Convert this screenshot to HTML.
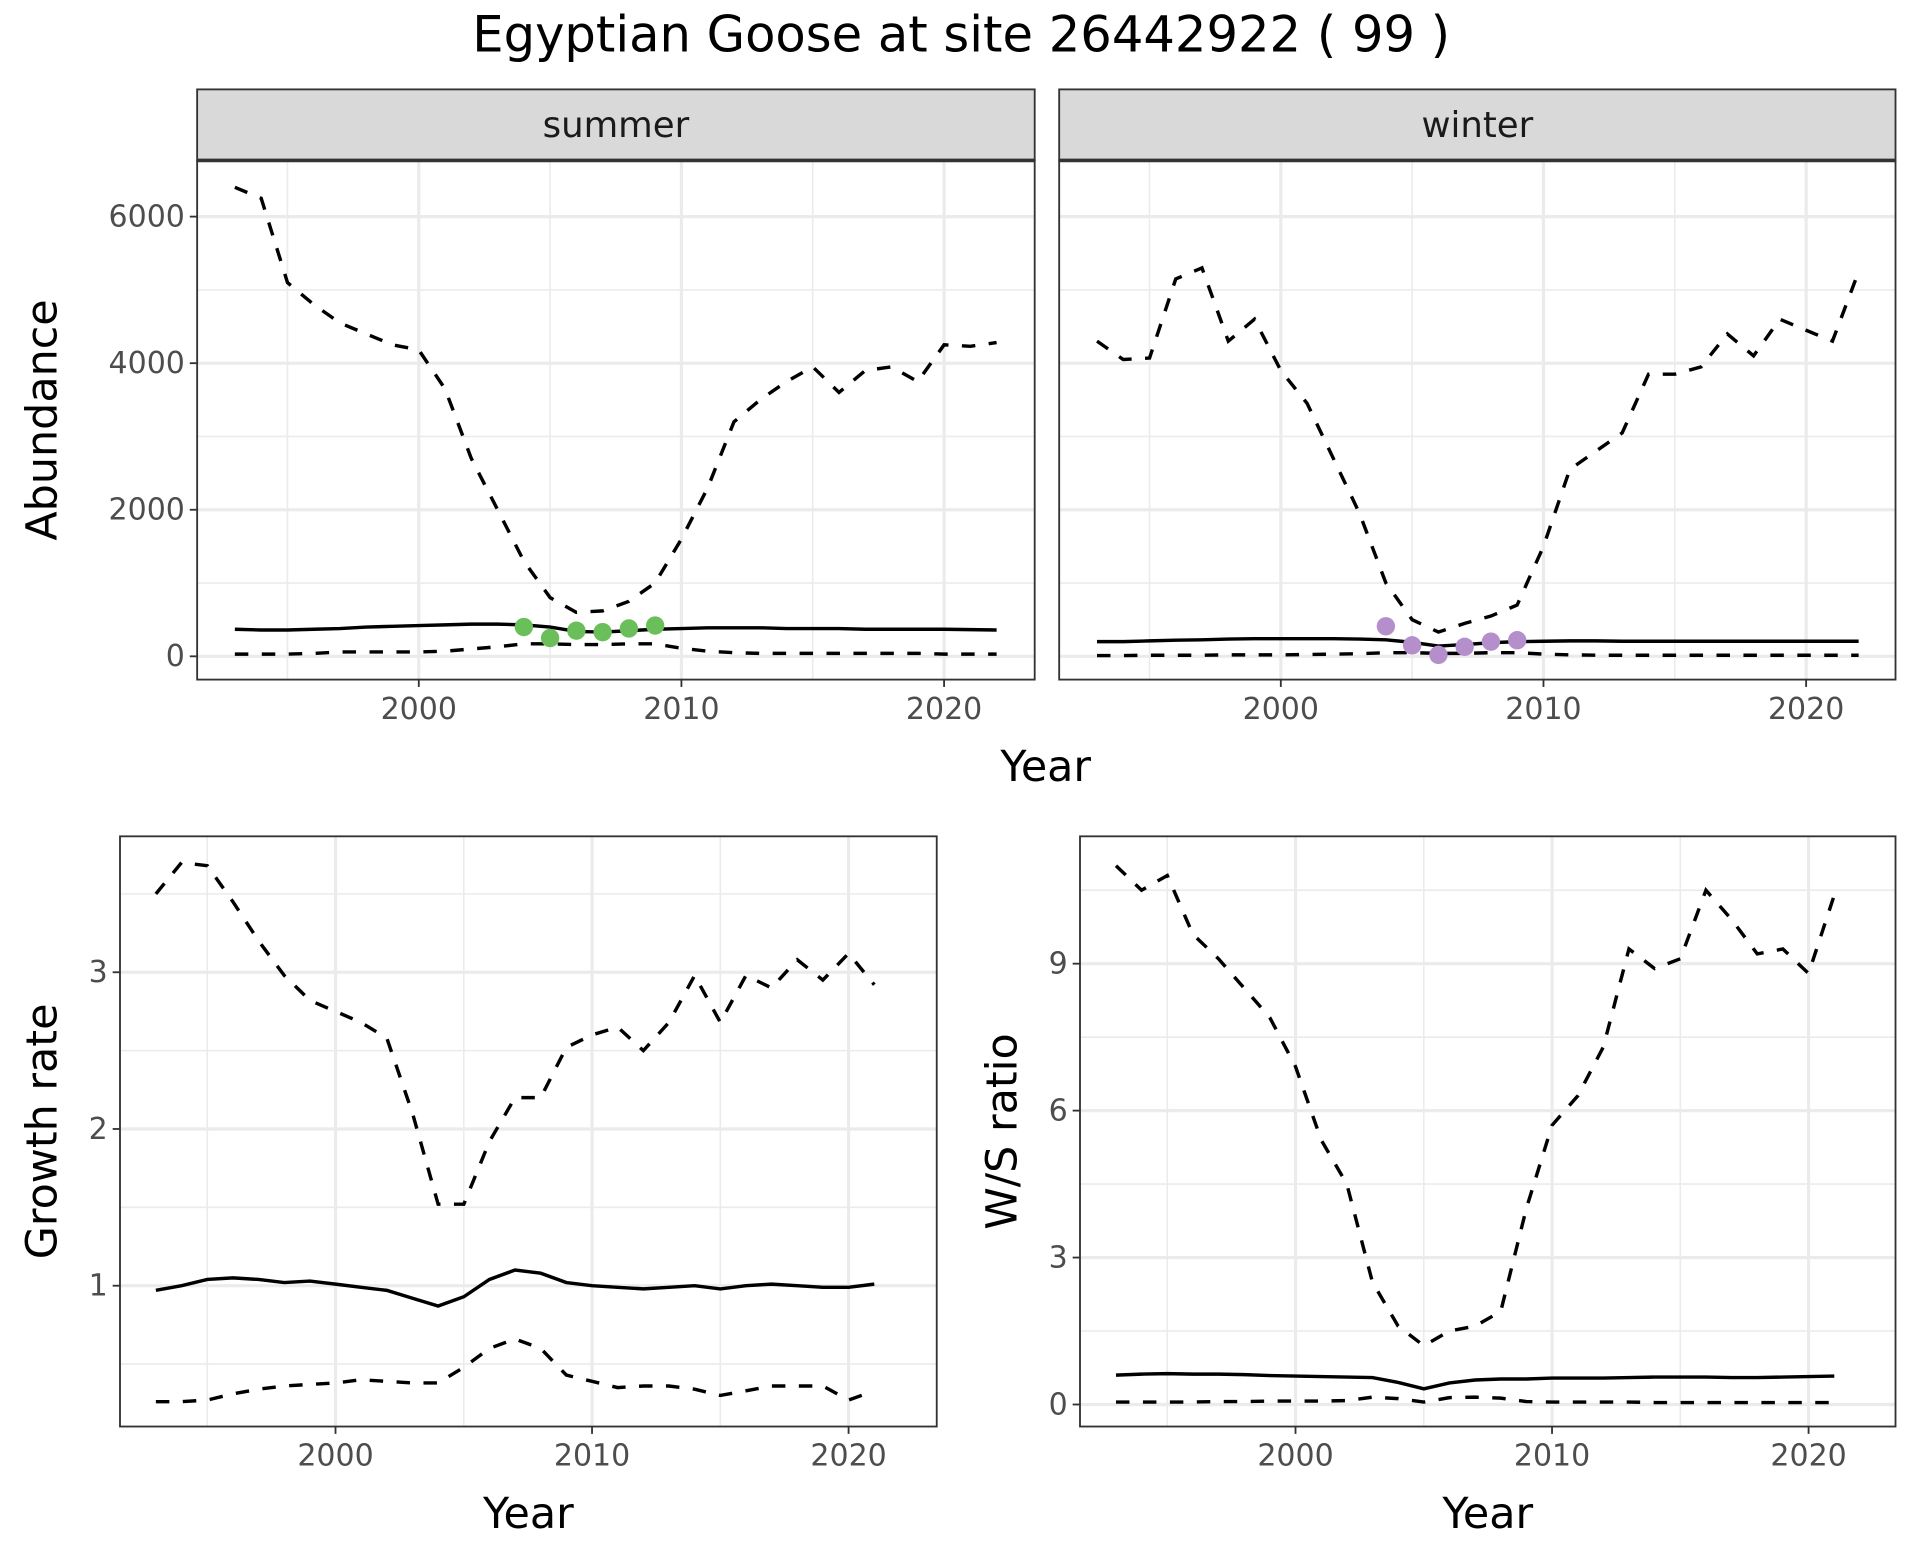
<!DOCTYPE html>
<html><head><meta charset="utf-8"><style>
html,body{margin:0;padding:0;background:#fff;}
svg{display:block;font-family:"DejaVu Sans","Liberation Sans",sans-serif;}
</style></head><body>
<svg id="chart" width="1920" height="1560" viewBox="0 0 1568 1274" xmlns="http://www.w3.org/2000/svg">
<rect width="1568" height="1274" fill="#fff"/>
<text x="785" y="42" text-anchor="middle" font-size="40.5" fill="#000">Egyptian Goose at site 26442922 ( 99 )</text>
</svg>
<script>
const yearsA = [1993,1994,1995,1996,1997,1998,1999,2000,2001,2002,2003,2004,2005,2006,2007,2008,2009,2010,2011,2012,2013,2014,2015,2016,2017,2018,2019,2020,2021,2022];
const summerUpper = [6400,6250,5100,4800,4550,4400,4250,4180,3650,2700,2000,1300,800,600,620,750,1000,1600,2300,3200,3500,3750,3950,3600,3900,3950,3750,4250,4230,4280];
const summerMean = [370,360,360,370,380,400,410,420,430,440,440,430,400,340,330,350,370,380,390,390,390,380,380,380,370,370,370,370,365,360];
const summerLower = [30,30,30,40,60,60,60,60,70,100,130,170,170,160,160,170,170,110,70,50,40,40,40,40,40,40,40,30,30,30];
const summerPtYears = [2004,2005,2006,2007,2008,2009];
const summerPts = [400,250,350,330,380,420];
const winterUpper = [4300,4050,4070,5150,5300,4300,4600,3900,3450,2700,1950,1000,500,330,450,550,700,1500,2550,2800,3050,3850,3850,3950,4400,4100,4600,4450,4300,5250];
const winterMean = [200,200,210,220,225,235,240,240,240,240,235,225,190,140,160,185,200,205,210,210,205,205,205,205,205,205,205,205,205,205];
const winterLower = [10,10,15,15,15,20,20,20,25,30,35,50,50,40,40,50,50,30,20,15,15,15,15,15,15,15,15,15,15,15];
const winterPtYears = [2004,2005,2006,2007,2008,2009];
const winterPts = [410,150,20,130,200,220];
const yearsB = [1993,1994,1995,1996,1997,1998,1999,2000,2001,2002,2003,2004,2005,2006,2007,2008,2009,2010,2011,2012,2013,2014,2015,2016,2017,2018,2019,2020,2021];
const growthMean = [0.97,1.0,1.04,1.05,1.04,1.02,1.03,1.01,0.99,0.97,0.92,0.87,0.93,1.04,1.10,1.08,1.02,1.0,0.99,0.98,0.99,1.0,0.98,1.0,1.01,1.0,0.99,0.99,1.01];
const growthUpper = [3.5,3.7,3.68,3.45,3.2,2.98,2.82,2.75,2.68,2.58,2.1,1.52,1.52,1.92,2.2,2.2,2.52,2.6,2.65,2.5,2.68,2.98,2.68,2.98,2.9,3.08,2.95,3.12,2.92];
const growthLower = [0.26,0.26,0.27,0.31,0.34,0.36,0.37,0.38,0.40,0.39,0.38,0.38,0.48,0.60,0.66,0.60,0.43,0.39,0.35,0.36,0.36,0.34,0.30,0.33,0.36,0.36,0.36,0.27,0.33];
const ratioUpper = [11.0,10.5,10.8,9.6,9.1,8.5,7.9,6.9,5.4,4.5,2.5,1.6,1.2,1.5,1.6,1.9,4.0,5.7,6.3,7.3,9.3,8.9,9.1,10.5,9.9,9.2,9.3,8.8,10.4];
const ratioMean = [0.6,0.62,0.63,0.62,0.62,0.61,0.59,0.58,0.57,0.56,0.55,0.45,0.32,0.44,0.5,0.52,0.52,0.54,0.54,0.54,0.55,0.56,0.56,0.56,0.55,0.55,0.56,0.57,0.58];
const ratioLower = [0.05,0.05,0.05,0.05,0.06,0.06,0.07,0.07,0.07,0.08,0.15,0.12,0.05,0.14,0.15,0.13,0.06,0.05,0.05,0.05,0.05,0.04,0.04,0.04,0.04,0.04,0.04,0.04,0.04];
const xTicks = [2000,2010,2020];
const xMinor = [1995,2005,2015];
const abTicks = [0,2000,4000,6000];
const abMinor = [1000,3000,5000];
const grTicks = [1,2,3];
const grMinor = [0.5,1.5,2.5,3.5];
const raTicks = [0,3,6,9];
const raMinor = [1.5,4.5,7.5,10.5];

const svg = document.getElementById('chart');
const NS = 'http://www.w3.org/2000/svg';
function mk(tag, attrs, parent){const e=document.createElementNS(NS,tag);for(const k in attrs)e.setAttribute(k,attrs[k]);(parent||svg).appendChild(e);return e;}

function panel(o){
  const g = mk('g',{});
  
  
  const sx = v => o.x0 + (v - o.xa) * o.xs;
  const sy = v => o.y0 - (v - o.ya) * o.ys;
  mk('rect',{x:o.l,y:o.t,width:o.r-o.l,height:o.b-o.t,fill:'#fff'},g);
  o.yMinor.forEach(v=>{const y=sy(v); if(y>o.t&&y<o.b) mk('line',{x1:o.l,x2:o.r,y1:y,y2:y,stroke:'#ebebeb','stroke-width':1.3},g);});
  xMinor.forEach(v=>{const x=sx(v); mk('line',{x1:x,x2:x,y1:o.t,y2:o.b,stroke:'#ebebeb','stroke-width':1.3},g);});
  o.yTicks.forEach(v=>{const y=sy(v); mk('line',{x1:o.l,x2:o.r,y1:y,y2:y,stroke:'#ebebeb','stroke-width':2.6},g);});
  xTicks.forEach(v=>{const x=sx(v); mk('line',{x1:x,x2:x,y1:o.t,y2:o.b,stroke:'#ebebeb','stroke-width':2.6},g);});
  const series = [[o.upper,'dash','upper-bound-line'],[o.lower,'dash','lower-bound-line'],[o.mean,'solid','mean-line']];
  series.forEach(([arr,st,nm])=>{
    const d = arr.map((v,i)=>(i?'L':'M')+sx(o.years[i]).toFixed(1)+','+sy(v).toFixed(1)).join('');
    const p = mk('path',{d:d,fill:'none',stroke:'#000','stroke-width':2.8,'stroke-dasharray':st==='dash'?'11,11':'none'},g);
    
    
  });
  if(o.pts){o.pts.forEach((v,i)=>{const c=mk('circle',{cx:sx(o.ptYears[i]),cy:sy(v),r:7.5,fill:o.ptColor},g);
    
    });}
  mk('rect',{x:o.l,y:o.t,width:o.r-o.l,height:o.b-o.t,fill:'none',stroke:'#333','stroke-width':1.5},g);
  if(o.strip){
    const s=mk('rect',{x:o.l,y:o.t-58,width:o.r-o.l,height:58,fill:'#d9d9d9',stroke:'#333','stroke-width':1.5},g);
    
    
    mk('line',{x1:o.l,x2:o.r,y1:o.t,y2:o.t,stroke:'#333','stroke-width':3},g);
    const t=mk('text',{x:(o.l+o.r)/2,y:o.t-19,'text-anchor':'middle','font-size':29,fill:'#1a1a1a'},g);
    t.textContent=o.strip;
    
    
  }
  xTicks.forEach(v=>{const x=sx(v);
    mk('line',{x1:x,x2:x,y1:o.b,y2:o.b+6,stroke:'#333','stroke-width':1.5},g);
    const t=mk('text',{x:x,y:o.b+32,'text-anchor':'middle','font-size':24.5,fill:'#4d4d4d'},g);t.textContent=v;
    
    });
  if(o.showY){o.yTicks.forEach(v=>{const y=sy(v);
    mk('line',{x1:o.l-6,x2:o.l,y1:y,y2:y,stroke:'#333','stroke-width':1.5},g);
    const t=mk('text',{x:o.l-10,y:y+8,'text-anchor':'end','font-size':24.5,fill:'#4d4d4d'},g);t.textContent=v;
    
    });}
  if(o.ytitle){const t=mk('text',{x:0,y:0,'text-anchor':'middle','font-size':35,fill:'#000',transform:`translate(${o.ytx},${(o.t+o.b)/2}) rotate(-90)`},g);t.textContent=o.ytitle;
    
    }
  if(o.xtitle){const t=mk('text',{x:(o.l+o.r)/2,y:o.b+83,'text-anchor':'middle','font-size':35,fill:'#000'},g);t.textContent='Year';
    
    }
}

panel({name:'summer-panel',l:161,r:845,t:131,b:555,x0:342,xa:2000,xs:21.45,y0:536,ya:0,ys:119.7/2000,
  yTicks:abTicks,yMinor:abMinor,years:yearsA,upper:summerUpper,mean:summerMean,lower:summerLower,
  pts:summerPts,ptYears:summerPtYears,ptColor:'#6abf5a',strip:'summer',showY:true,ytitle:'Abundance',ytx:46});
panel({name:'winter-panel',l:865,r:1548,t:131,b:555,x0:1046,xa:2000,xs:21.45,y0:536,ya:0,ys:119.7/2000,
  yTicks:abTicks,yMinor:abMinor,years:yearsA,upper:winterUpper,mean:winterMean,lower:winterLower,
  pts:winterPts,ptYears:winterPtYears,ptColor:'#b48fcb',strip:'winter',showY:false});
const yt=mk('text',{x:854,y:638,'text-anchor':'middle','font-size':35,fill:'#000'});yt.textContent='Year';


panel({name:'growth-rate-panel',l:98,r:765,t:683,b:1165,x0:274,xa:2000,xs:20.95,y0:1050,ya:1,ys:128,
  yTicks:grTicks,yMinor:grMinor,years:yearsB,upper:growthUpper,mean:growthMean,lower:growthLower,
  showY:true,ytitle:'Growth rate',ytx:46,xtitle:true});
panel({name:'ws-ratio-panel',l:882,r:1548,t:683,b:1165,x0:1058,xa:2000,xs:20.95,y0:1147,ya:0,ys:40,
  yTicks:raTicks,yMinor:raMinor,years:yearsB,upper:ratioUpper,mean:ratioMean,lower:ratioLower,
  showY:true,ytitle:'W/S ratio',ytx:830,xtitle:true});
</script>
</body></html>
